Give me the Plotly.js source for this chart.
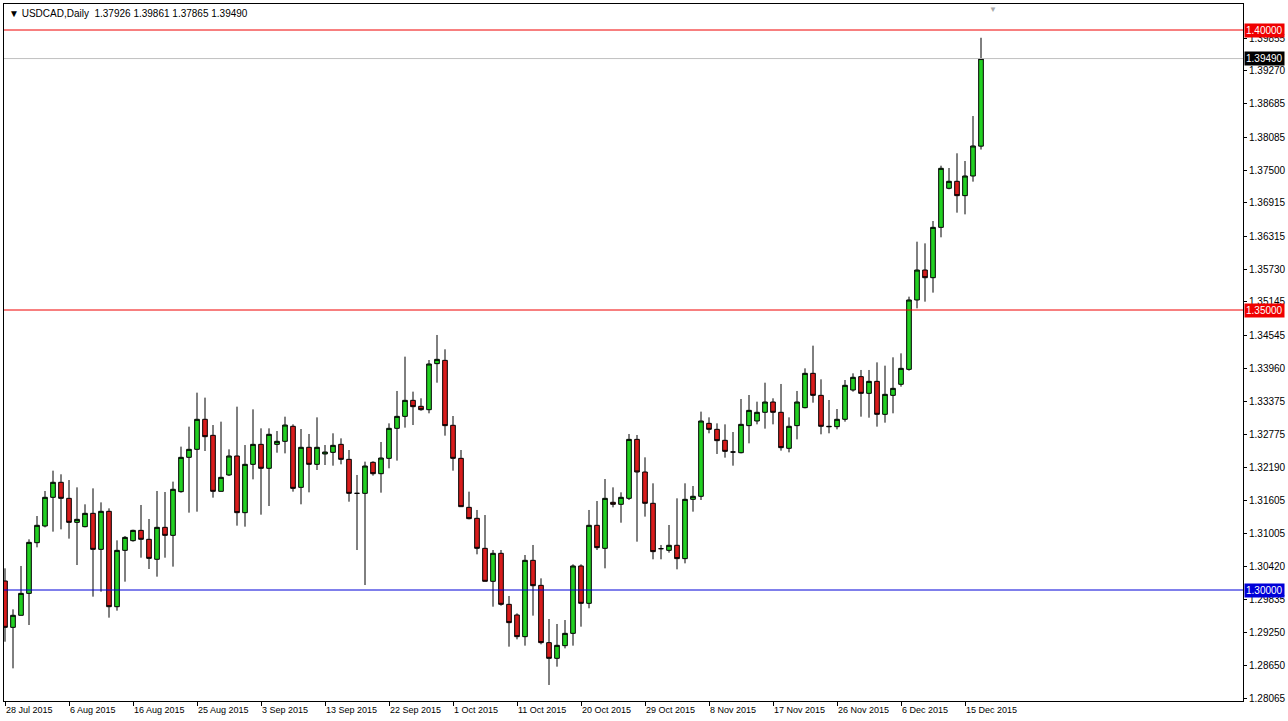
<!DOCTYPE html>
<html>
<head>
<meta charset="utf-8">
<script src="https://cdn.plot.ly/plotly-3.0.1.min.js"></script>
<style>
html,body{margin:0;padding:0;background:#fff;}
#chart{width:1288px;height:721px;}
</style>
</head>
<body>
<div id="chart"></div>
<script>
// ---- Data (USDCAD Daily, bars from 28 Jul 2015, incl. Sunday bars) ----
const symbol = 'USDCAD,Daily';
const open = [
1.30161,1.29333,1.29548,1.29940,1.30845,1.31143,1.31655,1.31923,1.31637,1.31208,
1.31131,1.31369,1.30726,1.31405,1.29702,1.30708,1.30881,1.31065,1.30905,1.30548,
1.31119,1.30976,1.31756,1.32369,1.32512,1.33048,1.32762,1.31762,1.32054,1.32393,
1.31381,1.32244,1.32601,1.32173,1.32601,1.32655,1.32923,1.31833,1.32548,1.32244,
1.32429,1.32458,1.32601,1.32333,1.31726,1.31726,1.32280,1.32077,1.32351,1.32887,
1.33101,1.33387,1.33280,1.33220,1.34042,1.34101,1.32941,1.32351,1.31476,1.31280,
1.30744,1.30155,1.30655,1.29744,1.29554,1.29167,1.30530,1.30083,1.29060,1.28780,
1.29006,1.29226,1.30429,1.29762,1.31155,1.30744,1.31566,1.31530,1.31637,1.32690,
1.32107,1.31548,1.30738,1.30708,1.30798,1.30560,1.31619,1.31673,1.32976,1.32869,
1.32673,1.32464,1.32452,1.32935,1.33018,1.33173,1.33357,1.33173,1.32530,1.32935,
1.33256,1.33869,1.33476,1.32923,1.32917,1.33048,1.33571,1.33810,1.33512,1.33726,
1.33137,1.33476,1.33673,1.33940,1.35179,1.35714,1.35577,1.36476,1.37173,1.37298,
1.37042,1.37393,1.37926];
const high = [
1.30387,1.29655,1.30429,1.30905,1.31321,1.31768,1.32131,1.32066,1.31964,1.31833,
1.31530,1.31815,1.31565,1.31458,1.30887,1.30964,1.31077,1.31518,1.31268,1.31768,
1.31750,1.31935,1.32560,1.32917,1.33524,1.33435,1.32946,1.33006,1.32512,1.33274,
1.32589,1.33226,1.32887,1.32887,1.32839,1.33095,1.32958,1.32875,1.32786,1.33083,
1.32589,1.32798,1.32708,1.32500,1.32054,1.32292,1.32298,1.32643,1.32976,1.33554,
1.34167,1.33542,1.33423,1.34107,1.34554,1.34298,1.33107,1.32500,1.31756,1.31429,
1.31339,1.30714,1.30714,1.29893,1.29583,1.30625,1.30804,1.30208,1.29482,1.29393,
1.29464,1.30458,1.30458,1.31429,1.31589,1.31982,1.31833,1.31744,1.32786,1.32768,
1.32369,1.31905,1.30804,1.31161,1.31637,1.31905,1.31857,1.33185,1.33083,1.32976,
1.32958,1.32821,1.33411,1.33482,1.33363,1.33702,1.33423,1.33679,1.33083,1.33554,
1.33958,1.34363,1.33762,1.33393,1.33232,1.33750,1.33869,1.33929,1.33929,1.34065,
1.34006,1.34155,1.34226,1.35238,1.36220,1.36190,1.36589,1.37577,1.37536,1.37798,
1.37661,1.38464,1.39861];
const low = [
1.29077,1.28601,1.29548,1.29375,1.30762,1.31119,1.31042,1.31083,1.30917,1.30446,
1.31119,1.29881,1.29970,1.29506,1.29631,1.30149,1.30863,1.30577,1.30375,1.30238,
1.30577,1.30417,1.31738,1.31381,1.31399,1.32482,1.31649,1.31762,1.32036,1.31149,
1.31131,1.31976,1.31345,1.31500,1.32452,1.32440,1.31756,1.31530,1.31744,1.32143,
1.32232,1.32220,1.32244,1.31577,1.30714,1.30089,1.32042,1.31738,1.32173,1.32310,
1.32899,1.32946,1.33202,1.33155,1.33702,1.32756,1.32131,1.31488,1.31262,1.30637,
1.30155,1.29702,1.29720,1.28988,1.29119,1.29006,1.29542,1.29030,1.28304,1.28631,
1.28958,1.29006,1.29345,1.29673,1.30714,1.30387,1.31476,1.31202,1.31607,1.30863,
1.31310,1.30548,1.30548,1.30667,1.30369,1.30476,1.31399,1.31607,1.32798,1.32429,
1.32363,1.32220,1.32440,1.32619,1.32958,1.32881,1.32958,1.32488,1.32458,1.32690,
1.33244,1.33345,1.32780,1.32798,1.32869,1.33006,1.33542,1.33095,1.33077,1.32917,
1.32988,1.33155,1.33631,1.33917,1.35030,1.35149,1.35310,1.36298,1.37155,1.36738,
1.36708,1.37292,1.37865];
const close = [
1.29333,1.29548,1.29940,1.30851,1.31155,1.31655,1.31923,1.31637,1.31208,1.31262,
1.31369,1.30726,1.31405,1.29702,1.30708,1.30940,1.31065,1.30905,1.30565,1.31119,
1.30976,1.31798,1.32369,1.32512,1.33048,1.32738,1.31762,1.32012,1.32393,1.31381,
1.32244,1.32601,1.32173,1.32780,1.32655,1.32946,1.31815,1.32548,1.32244,1.32548,
1.32464,1.32583,1.32333,1.31726,1.31726,1.32214,1.32077,1.32357,1.32887,1.33101,
1.33387,1.33274,1.33220,1.34036,1.34119,1.32935,1.32351,1.31488,1.31274,1.30744,
1.30155,1.30655,1.29744,1.29417,1.29167,1.30530,1.30077,1.29060,1.28780,1.29012,
1.29226,1.30429,1.29762,1.31155,1.30756,1.31637,1.31530,1.31655,1.32690,1.32107,
1.31548,1.30685,1.30738,1.30798,1.30560,1.31619,1.31673,1.33018,1.32869,1.32667,
1.32476,1.32464,1.32958,1.33208,1.33173,1.33357,1.33173,1.32542,1.32923,1.33357,
1.33869,1.33476,1.32923,1.32917,1.33048,1.33655,1.33798,1.33512,1.33726,1.33137,
1.33494,1.33601,1.33958,1.35179,1.35714,1.35577,1.36476,1.37530,1.37298,1.37042,
1.37393,1.37929,1.39490];

const dateLabels = ['28 Jul 2015','6 Aug 2015','16 Aug 2015','25 Aug 2015','3 Sep 2015',
 '13 Sep 2015','22 Sep 2015','1 Oct 2015','11 Oct 2015','20 Oct 2015','29 Oct 2015',
 '8 Nov 2015','17 Nov 2015','26 Nov 2015','6 Dec 2015','15 Dec 2015'];
const priceLabels = ['1.39855','1.39270','1.38685','1.38085','1.37500','1.36915','1.36315',
 '1.35730','1.35145','1.34545','1.33960','1.33375','1.32775','1.32190','1.31605','1.31005',
 '1.30420','1.29835','1.29250','1.28650','1.28065'];
const levels = [1.40000, 1.35000, 1.30000];

// ---- Build ----
const barsPerLabel = 8;
const idx = open.map((_, i) => i);
const last = close.length - 1;
const levelColors = ['#f00000', '#f00000', '#0000d8'];
const FONT = 'Liberation Sans, Arial, sans-serif';

const trace = {
  type: 'candlestick',
  x: idx, open: open, high: high, low: low, close: close,
  increasing: {line: {color: '#000000', width: 1}, fillcolor: '#22d022'},
  decreasing: {line: {color: '#000000', width: 1}, fillcolor: '#d81c1c'},
  whiskerwidth: 0,
  hoverinfo: 'skip',
  showlegend: false
};

const shapes = levels.map((v, k) => ({
  type: 'line', xref: 'paper', yref: 'y', x0: 0, x1: 1, y0: v, y1: v,
  line: {color: levelColors[k], width: 1}
}));
shapes.push({
  type: 'line', xref: 'paper', yref: 'y', x0: 0, x1: 1, y0: close[last], y1: close[last],
  line: {color: '#c0c0c0', width: 1}
});

const annotations = levels.map((v, k) => ({
  xref: 'paper', yref: 'y', x: 1, y: v, xanchor: 'left', yanchor: 'middle', xshift: 1,
  text: v.toFixed(5), showarrow: false, bgcolor: levelColors[k], borderpad: 1,
  font: {family: FONT, size: 10, color: '#ffffff'}
}));
annotations.push({
  xref: 'paper', yref: 'y', x: 1, y: close[last], xanchor: 'left', yanchor: 'middle', xshift: 1,
  text: close[last].toFixed(5), showarrow: false, bgcolor: '#000000', borderpad: 1,
  font: {family: FONT, size: 10, color: '#ffffff'}
});
annotations.push({
  xref: 'paper', yref: 'paper', x: 0, y: 1, xanchor: 'left', yanchor: 'top', xshift: 3, yshift: -2,
  text: '▼ ' + symbol + '  ' + [open[last], high[last], low[last], close[last]].map(v => v.toFixed(5)).join(' '),
  showarrow: false, font: {family: FONT, size: 10, color: '#000000'}
});
annotations.push({
  xref: 'paper', yref: 'paper', x: 0.798, y: 1, xanchor: 'center', yanchor: 'top', yshift: 1,
  text: '▼', showarrow: false, font: {family: FONT, size: 8, color: '#a8a8a8'}
});

const layout = {
  width: 1288, height: 721,
  margin: {l: 4, r: 45, t: 4, b: 20, pad: 0},
  paper_bgcolor: '#ffffff', plot_bgcolor: '#ffffff',
  showlegend: false,
  boxgap: 0.42, boxgroupgap: 0,
  xaxis: {
    type: 'linear',
    range: [-0.125, 154.75],
    showgrid: false, zeroline: false,
    showline: true, mirror: true, linecolor: '#000000', linewidth: 1,
    ticks: 'outside', ticklen: 4, tickcolor: '#000000', tickwidth: 1,
    tickmode: 'array',
    tickvals: dateLabels.map((_, k) => k * barsPerLabel),
    ticktext: dateLabels,
    ticklabelposition: 'outside right',
    tickfont: {family: FONT, size: 9, color: '#000000'},
    rangeslider: {visible: false},
    fixedrange: true
  },
  yaxis: {
    side: 'right',
    range: [1.280179, 1.404643],
    showgrid: false, zeroline: false,
    showline: true, mirror: true, linecolor: '#000000', linewidth: 1,
    ticks: 'outside', ticklen: 3, tickcolor: '#000000', tickwidth: 1,
    tickmode: 'array',
    tickvals: priceLabels.map(Number),
    ticktext: priceLabels,
    tickfont: {family: FONT, size: 10, color: '#000000'},
    fixedrange: true
  },
  shapes: shapes,
  annotations: annotations
};

Plotly.newPlot('chart', [trace], layout, {displayModeBar: false, staticPlot: true});
</script>
</body>
</html>
